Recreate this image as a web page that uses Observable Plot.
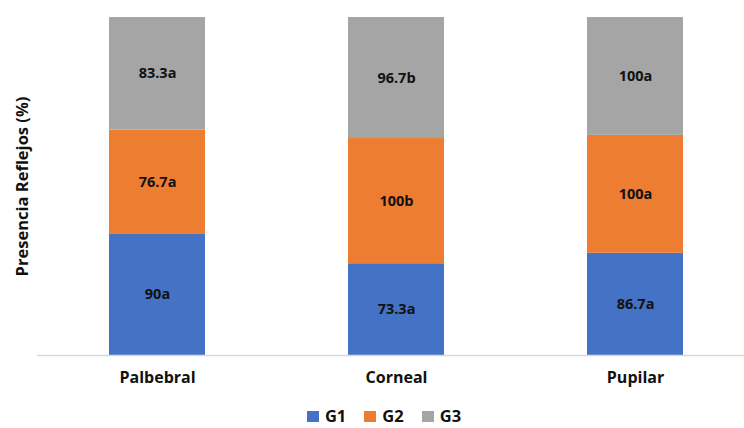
<!DOCTYPE html>
<html>
<head>
<meta charset="utf-8">
<script src="https://cdn.jsdelivr.net/npm/d3@7"></script>
<script src="https://cdn.jsdelivr.net/npm/@observablehq/plot@0.6"></script>
<style>
  html, body { margin: 0; padding: 0; background: #fff; }
  #chart { width: 744px; }
  .legend {
    display: flex; justify-content: center; align-items: center;
    height: 24px; line-height: 24px; margin-left: 24px;
    font-family: "Open Sans", sans-serif; font-weight: 700; font-size: 16.5px; color: #111;
  }
  .legend .item { display: flex; align-items: center; margin: 0 9px; }
  .legend .sw { width: 12px; height: 11px; margin-right: 6px; }
</style>
</head>
<body>
<div id="chart"></div>
<script>
// Reflex presence by group (%), with significance letters
const categories = ["Palbebral", "Corneal", "Pupilar"];
const groups = ["G1", "G2", "G3"];
const colors = ["#4472C4", "#ED7D31", "#A5A5A5"];
const g1 = [90, 73.3, 86.7];
const g2 = [76.7, 100, 100];
const g3 = [83.3, 96.7, 100];
const g1Letters = ["a", "a", "a"];
const g2Letters = ["a", "b", "a"];
const g3Letters = ["a", "b", "a"];
const yTitle = "Presencia Reflejos (%)";

const series = [g1, g2, g3];
const letters = [g1Letters, g2Letters, g3Letters];
const rows = [];
groups.forEach((g, gi) => {
  categories.forEach((c, ci) => {
    rows.push({category: c, group: g, value: series[gi][ci], label: `${series[gi][ci]}${letters[gi][ci]}`});
  });
});

const font = "'Open Sans', sans-serif";

const plot = Plot.plot({
  width: 744,
  height: 404,
  marginTop: 17,
  marginBottom: 49,
  marginLeft: 37,
  marginRight: 0,
  style: {fontFamily: font, background: "#fff"},
  x: {domain: categories, range: [37, 755.5], paddingInner: 0.6, paddingOuter: 0.3, label: null},
  y: {axis: null, domain: [0, 1]},
  color: {domain: groups, range: colors},
  marks: [
    Plot.barY(rows, Plot.stackY({offset: "normalize", x: "category", y: "value", fill: "group", z: "group"})),
    Plot.text(rows, Plot.stackY({offset: "normalize", x: "category", y: "value", z: "group", text: "label",
      fill: "#111", fontSize: 14.5, fontWeight: 700})),
    Plot.ruleY([0], {stroke: "#d9d9d9", strokeWidth: 1.3}),
    Plot.axisX({tickSize: 0, tickPadding: 16, fontSize: 16, fontWeight: 700, color: "#111", label: null}),
    Plot.text([yTitle], {frameAnchor: "left", textAnchor: "middle", dx: -15, rotate: -90,
      fontSize: 16.5, fontWeight: 700, fill: "#111"})
  ]
});

document.getElementById("chart").append(plot);

const legend = document.createElement("div");
legend.className = "legend";
groups.forEach((g, i) => {
  const item = document.createElement("div");
  item.className = "item";
  const sw = document.createElement("span");
  sw.className = "sw";
  sw.style.background = colors[i];
  item.append(sw, document.createTextNode(g));
  legend.append(item);
});
document.getElementById("chart").append(legend);
</script>
</body>
</html>
